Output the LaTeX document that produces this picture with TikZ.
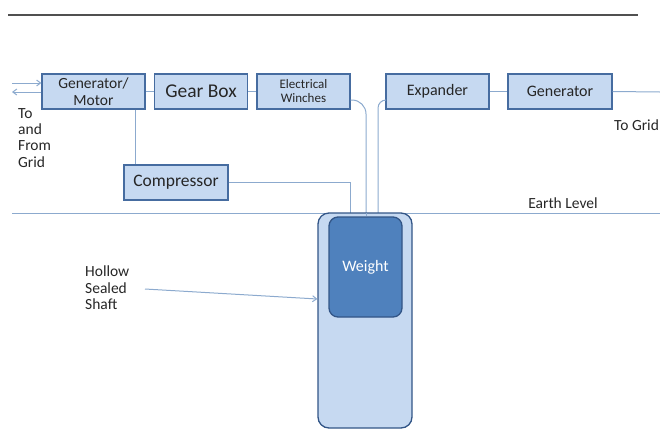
\documentclass[tikz,border=0pt]{standalone}
\usepackage{fontspec}
\setmainfont{Carlito}
\usetikzlibrary{arrows.meta,calc}
\definecolor{boxfill}{RGB}{198,217,241}
\definecolor{boxline}{RGB}{70,108,160}
\definecolor{wire}{RGB}{140,170,206}
\definecolor{wtfill}{RGB}{79,129,189}
\definecolor{wtline}{RGB}{50,85,135}
\definecolor{txt}{RGB}{38,38,38}
\tikzset{
  blk/.style={draw=boxline, fill=boxfill, line width=1.2pt, minimum height=35pt, inner sep=0pt, align=center, text=txt},
  wirel/.style={draw=wire, line width=1pt},
  lab/.style={text=txt, inner sep=0pt, align=left, font=\fontsize{15.5}{16.4}\selectfont},
  tip/.style={-{Straight Barb[length=4pt,width=6pt]}}
}
\begin{document}
\begin{tikzpicture}[x=1pt,y=-1pt]
\useasboundingbox (0,0) rectangle (660,429);
\draw[line width=1.5pt, draw={rgb,255:red,80;green,80;blue,80}] (8,15) -- (638,15);

\node[blk, minimum width=103pt, font=\fontsize{15.5}{17}\selectfont] (gm) at (93.5,91.5) {Generator/\\Motor};
\node[blk, minimum width=93pt, font=\fontsize{19.5}{20}\selectfont] (gb) at (201,91.5) {Gear Box};
\node[blk, minimum width=93pt, font=\fontsize{13}{14}\selectfont] (win) at (303.5,91.5) {Electrical\\Winches};
\node[blk, minimum width=103pt, font=\fontsize{16}{17}\selectfont] (exp) at (437.5,91.5) {Expander};
\node[blk, minimum width=104pt, font=\fontsize{16}{17}\selectfont] (gen) at (560,91.5) {Generator};
\node[blk, minimum width=104pt, font=\fontsize{17.5}{18}\selectfont] (comp) at (176,182.5) {Compressor};

\coordinate (gin) at (12,83);
\coordinate (gout) at (12,92);
\coordinate (grid) at (660,92);
\coordinate (eL) at (12,213);
\coordinate (eR) at (660,213);
\coordinate (hs) at (145,289);

\draw[wirel, tip] (gin) -- (gin -| gm.west);
\draw[wirel, tip] (gout -| gm.west) -- (gout);
\draw[wirel] (gm.east) -- (gb.west);
\draw[wirel] (gb.east) -- (win.west);
\draw[wirel] (exp.east) -- (gen.west);
\draw[wirel] (gen.east) -- (grid);
\draw[wirel] (gm.south -| 135,0) -- (comp.north -| 135,0);
\draw[wirel] (comp.east) -- (350,182.5) -- (350,213);
\draw[wirel, rounded corners=14pt] (win.east |- 0,100) -| (366,217);
\draw[wirel, rounded corners=8pt] (exp.west |- 0,100) -| (378,213);
\draw[wirel] (eL) -- (eR);

\node[draw=wtline, fill=boxfill, line width=1.3pt, rounded corners=11pt, minimum width=94pt, minimum height=215pt, inner sep=0pt] (shaft) at (365,320.5) {};
\node[draw=wtline, fill=wtfill, line width=1.3pt, rounded corners=9pt, minimum width=73pt, minimum height=100pt, inner sep=0pt, text=white, font=\fontsize{16}{17}\selectfont] (wt) at (365.5,267) {Weight};
\draw[wirel] (366,213) -- (wt.north -| 366,0);

\draw[wirel, tip] (hs) -- (shaft.west |- 0,299);

\node[lab, anchor=north west] (tafg) at (18,108) {To\\and\\From\\Grid};
\node[lab, anchor=north west] (hss) at (85,266) {Hollow\\Sealed\\Shaft};
\node[lab, anchor=west] (tg) at (614,125) {To Grid};
\node[lab, anchor=center] (el) at (563,203) {Earth Level};
\end{tikzpicture}
\end{document}
